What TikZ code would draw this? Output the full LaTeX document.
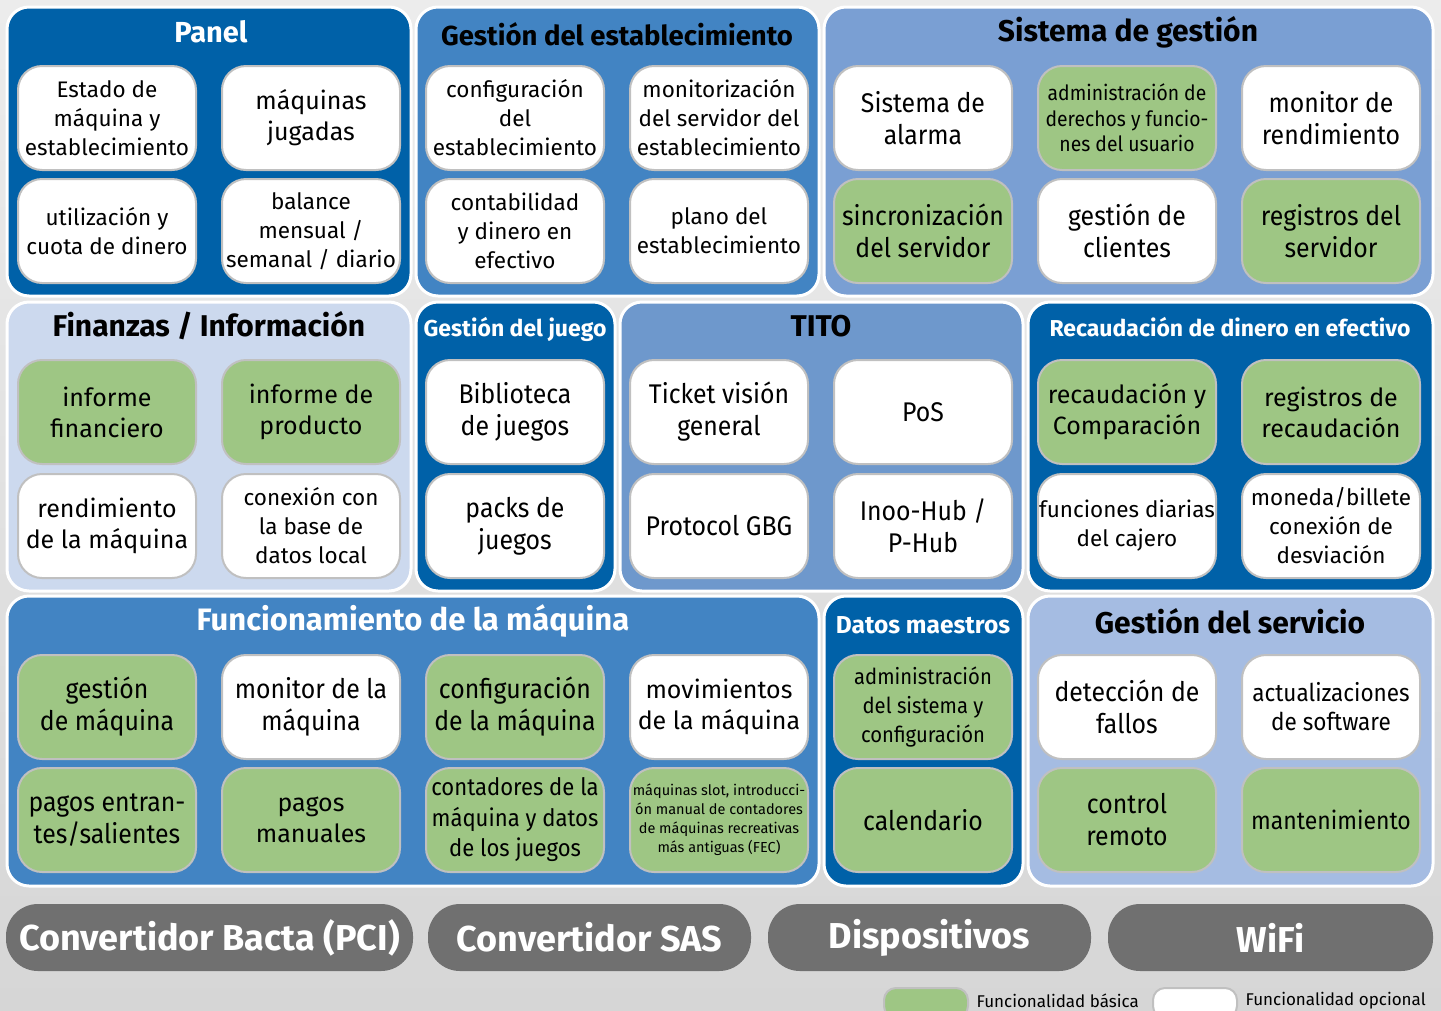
\documentclass[tikz,border=0pt]{standalone}
\usepackage{fontspec}
\setmainfont{Fira Sans}
\newfontfamily\narrowfont{Fira Sans}[FakeStretch=0.92]
\usetikzlibrary{positioning}
\definecolor{darkblue}{RGB}{0,97,168}
\definecolor{midblue}{RGB}{66,132,195}
\definecolor{sysblue}{RGB}{122,159,211}
\definecolor{titoblue}{RGB}{110,152,204}
\definecolor{paleblue}{RGB}{204,217,238}
\definecolor{servblue}{RGB}{165,188,226}
\definecolor{basicgreen}{RGB}{158,198,132}
\definecolor{boxgray}{RGB}{192,192,192}
\definecolor{bargray}{RGB}{112,112,112}
\definecolor{bgtop}{RGB}{236,236,236}
\definecolor{bgbottom}{RGB}{214,214,214}
\newcommand{\fbig}{\fontsize{25}{31}\selectfont}
\newcommand{\fmid}{\fontsize{22.5}{29}\selectfont}
\newcommand{\fnar}{\narrowfont\fontsize{27}{32}\selectfont}
\newcommand{\fnarmid}{\narrowfont\fontsize{22}{29}\selectfont}
\newcommand{\ftiny}{\fontsize{14.5}{19}\selectfont}

\begin{document}
\begin{tikzpicture}[x=1pt, y=-1pt,
    panel/.style={draw=white, line width=3pt, rounded corners=22pt},
    ptitle/.style={font=\bfseries\fontsize{30}{32}\selectfont},
    stitle/.style={font=\bfseries\fontsize{23}{26}\selectfont, text=white},
    opt/.style={draw=boxgray, line width=2pt, fill=white, rounded corners=24pt,
        minimum width=178pt, minimum height=104pt, align=center, inner sep=1pt, font=\fbig},
    basic/.style={opt, fill=basicgreen},
    bar/.style={fill=bargray, rounded corners=32pt, minimum height=67pt, text=white,
        font=\bfseries\fontsize{36}{40}\selectfont}]
    \useasboundingbox (0,0) rectangle (1441,1010);
    \shade[top color=bgtop, bottom color=bgbottom] (0,0) rectangle (1441,1010);

    % panels
    \path[panel, fill=darkblue] (7,7) rectangle (411,296);
    \path[panel, fill=midblue] (416,7) rectangle (819,296);
    \path[panel, fill=sysblue] (824,7) rectangle (1433,296);
    \path[panel, fill=paleblue] (7,302) rectangle (411,591);
    \path[panel, fill=darkblue] (416,302) rectangle (615,591);
    \path[panel, fill=titoblue] (620,302) rectangle (1023,591);
    \path[panel, fill=darkblue] (1028,302) rectangle (1433,591);
    \path[panel, fill=midblue] (7,596) rectangle (819,886);
    \path[panel, fill=darkblue] (824,596) rectangle (1023,886);
    \path[panel, fill=servblue] (1028,596) rectangle (1433,886);

    \node[ptitle, text=white, font=\bfseries\fontsize{29}{32}\selectfont] (tpanel) at (211,32) {Panel};
    \node[ptitle, font=\bfseries\fontsize{27.5}{30}\selectfont] (testab) at (617,34) {Gestión del establecimiento};
    \node[ptitle] (tsistema) at (1128,32) {Sistema de gestión};
    \node[ptitle] (tfinanzas) at (209,326) {Finanzas / Información};
    \node[stitle] (tjuego) at (515,329) {Gestión del juego};
    \node[ptitle] (ttito) at (821,326) {TITO};
    \node[stitle] (trecaud) at (1230,327) {Recaudación de dinero en efectivo};
    \node[ptitle, text=white, font=\bfseries\fontsize{31}{33}\selectfont] (tfunc) at (413,621) {Funcionamiento de la máquina};
    \node[stitle, font=\bfseries\fontsize{24.5}{26}\selectfont] (tdatos) at (923,625) {Datos maestros};
    \node[ptitle] (tservicio) at (1230,621) {Gestión del servicio};

    % Panel
    \node[opt, font=\fmid] (estado) at (107,118) {Estado de\\máquina y\\establecimiento};
    \node[opt] (jugadas) at (311,118) {máquinas\\jugadas};
    \node[opt, font=\fmid] (cuota) at (107,231) {utilización y\\cuota de dinero};
    \node[opt, font=\fmid] (balance) at (311,231) {balance\\mensual /\\semanal / diario};

    % Gestion del establecimiento
    \node[opt, font=\fmid] (confestab) at (515,118) {configuración\\del\\establecimiento};
    \node[opt, font=\fmid] (monserv) at (719,118) {monitorización\\del servidor del\\establecimiento};
    \node[opt, font=\fmid] (contab) at (515,231) {contabilidad\\y dinero en\\efectivo};
    \node[opt, font=\fmid] (plano) at (719,231) {plano del\\establecimiento};

    % Sistema de gestion
    \node[opt, font=\fnar] (alarma) at (923,118) {Sistema de\\alarma};
    \node[basic, font=\narrowfont\fontsize{21}{25.5}\selectfont] (derechos) at (1127,118) {administración de\\derechos y funcio-\\nes del usuario};
    \node[opt, font=\fnar] (rendim) at (1331,118) {monitor de\\rendimiento};
    \node[basic, font=\fnar] (sincro) at (923,231) {sincronización\\del servidor};
    \node[opt, font=\fnar] (clientes) at (1127,231) {gestión de\\clientes};
    \node[basic, font=\fnar] (regserv) at (1331,231) {registros del\\servidor};

    % Finanzas / Informacion
    \node[basic] (financiero) at (107,412) {informe\\financiero};
    \node[basic] (producto) at (311,412) {informe de\\producto};
    \node[opt] (rendmaq) at (107,526) {rendimiento\\de la máquina};
    \node[opt, font=\fmid] (basedatos) at (311,526) {conexión con\\la base de\\datos local};

    % Gestion del juego
    \node[opt, font=\fnar] (biblio) at (515,412) {Biblioteca\\de juegos};
    \node[opt, font=\fnar] (packs) at (515,526) {packs de\\juegos};

    % TITO
    \node[opt, font=\fnar] (ticket) at (719,412) {Ticket visión\\general};
    \node[opt, font=\fnar] (pos) at (923,412) {PoS};
    \node[opt, font=\fnar] (gbg) at (719,526) {Protocol GBG};
    \node[opt, font=\fnar] (hub) at (923,526) {Inoo-Hub /\\P-Hub};

    % Recaudacion de dinero en efectivo
    \node[basic] (compar) at (1127,412) {recaudación y\\Comparación};
    \node[basic] (regrec) at (1331,412) {registros de\\recaudación};
    \node[opt, font=\fmid] (cajero) at (1127,526) {funciones diarias\\del cajero};
    \node[opt, font=\fmid] (moneda) at (1331,526) {moneda/billete\\conexión de\\desviación};

    % Funcionamiento de la maquina
    \node[basic, font=\fnar] (gestmaq) at (107,707) {gestión\\de máquina};
    \node[opt, font=\fnar] (monmaq) at (311,707) {monitor de la\\máquina};
    \node[basic, font=\fnar] (confmaq) at (515,707) {configuración\\de la máquina};
    \node[opt] (movim) at (719,707) {movimientos\\de la máquina};
    \node[basic, font=\fnar] (pagos) at (107,820) {pagos entran-\\tes/salientes};
    \node[basic] (manuales) at (311,820) {pagos\\manuales};
    \node[basic, font=\narrowfont\fontsize{24}{30.5}\selectfont] (contadores) at (515,820) {contadores de la\\máquina y datos\\de los juegos};
    \node[basic, font=\ftiny] (fec) at (719,820) {máquinas slot, introducci-\\ón manual de contadores\\de máquinas recreativas\\más antiguas (FEC)};

    % Datos maestros
    \node[basic, font=\fnarmid] (admsist) at (923,707) {administración\\del sistema y\\configuración};
    \node[basic, font=\fnar] (calend) at (923,820) {calendario};

    % Gestion del servicio
    \node[opt, font=\fnar] (fallos) at (1127,707) {detección de\\fallos};
    \node[opt, font=\narrowfont\fontsize{24.5}{29}\selectfont] (software) at (1331,707) {actualizaciones\\de software};
    \node[basic, font=\fnar] (remoto) at (1127,820) {control\\remoto};
    \node[basic, font=\narrowfont\fontsize{25}{30}\selectfont] (manten) at (1331,820) {mantenimiento};

    % interfaces
    \node[bar, minimum width=407pt] (bacta) at (209.5,937.5) {Convertidor Bacta (PCI)};
    \node[bar, minimum width=323pt] (sas) at (589.5,937.5) {Convertidor SAS};
    \node[bar, minimum width=323pt] (dispos) at (929.5,937.5) {Dispositivos};
    \node[bar, minimum width=325pt] (wifi) at (1270.5,937.5) {WiFi};

    % legend
    \node[basic, minimum width=84pt, minimum height=30pt, rounded corners=12pt] (lgbasic) at (926,1003) {};
    \node[right=4pt of lgbasic.east, anchor=west, yshift=2pt, font=\fontsize{17}{20}\selectfont] (lgbasictxt) {Funcionalidad básica};
    \node[opt, minimum width=84pt, minimum height=30pt, rounded corners=12pt] (lgopt) at (1195,1003) {};
    \node[right=4pt of lgopt.east, anchor=west, yshift=2pt, font=\fontsize{17}{20}\selectfont] (lgopttxt) {Funcionalidad opcional};
\end{tikzpicture}
\end{document}
